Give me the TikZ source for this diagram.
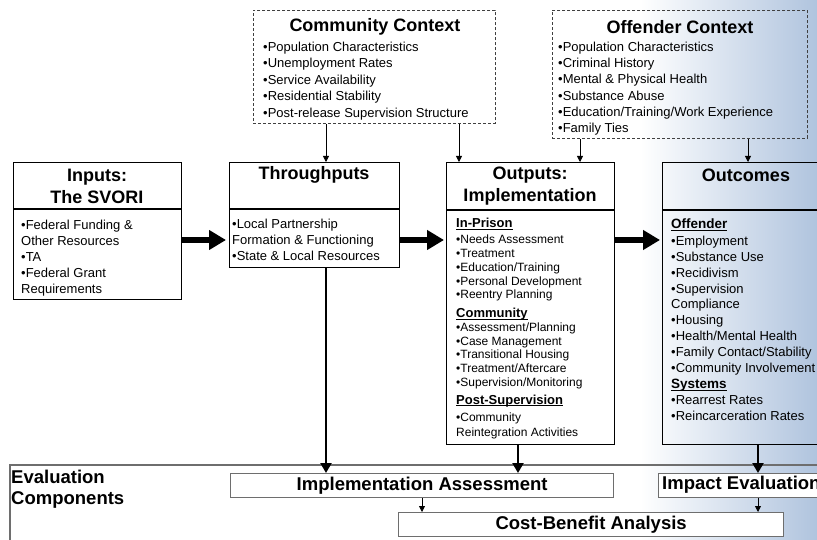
\documentclass[tikz,border=0pt]{standalone}
\usepackage{fontspec}
\setmainfont{Liberation Sans}
\usetikzlibrary{arrows.meta}
\definecolor{gradblue}{RGB}{176,196,222}
\definecolor{framegray}{RGB}{110,110,110}
\tikzset{
  mainbox/.style={draw=black, line width=1.3pt, inner sep=0pt, anchor=north west},
  ctxbox/.style={draw=black!75, line width=0.9pt, dash pattern=on 3pt off 2pt, inner sep=0pt, anchor=north west},
  evalbox/.style={draw=framegray, line width=1.3pt, fill=white, inner sep=0pt, anchor=north west},
  divider/.style={draw=black, line width=1.3pt},
  titletext/.style={font=\fontsize{18}{22}\selectfont\bfseries, align=center, inner sep=0pt},
  evaltext/.style={font=\fontsize{18.5}{21}\selectfont\bfseries, inner sep=0pt},
  bodytext/.style={align=left, inner sep=0pt, anchor=north west},
  thickarrow/.style={line width=6.5pt, -{Triangle[length=17pt,width=19pt]}},
  vertarrow/.style={line width=2.2pt, -{Triangle[length=10pt,width=11pt]}},
  thinarrow/.style={line width=0.8pt, -{Triangle[length=6pt,width=6pt]}},
}
\newcommand{\myul}[1]{{\setbox0\hbox{#1}\rlap{\rule[-2.2pt]{\wd0}{1pt}}\box0}}
\newcommand{\hdr}[1]{{\fontsize{13}{13.8}\selectfont\bfseries\myul{#1}}}
\newcommand{\hdrb}[1]{{\fontsize{13.5}{15.9}\selectfont\bfseries\myul{#1}}}
\begin{document}
\begin{tikzpicture}[x=1pt,y=-1pt]
\useasboundingbox (0,0) rectangle (817,540);
\clip (0,0) rectangle (817,540);
\fill[white] (0,0) rectangle (817,540);
\shade[left color=white, right color=gradblue] (640,0) rectangle (817,540);

% helper columns
\coordinate (colA) at (326,0);
\coordinate (colB) at (459,0);
\coordinate (colC) at (580,0);
\coordinate (colD) at (748,0);
\coordinate (colE) at (518,0);
\coordinate (colF) at (758,0);
\coordinate (colG) at (422,0);
\coordinate (rowArrow) at (0,240);

% context boxes
\node[ctxbox, minimum width=242pt, minimum height=113pt] (cc) at (253,10) {};
\node[titletext] (ccT) at (375,27) {Community Context};
\node[bodytext, font=\fontsize{13}{16.6}\selectfont] (ccB) at (263,41.5)
  {•Population Characteristics\\•Unemployment Rates\\•Service Availability\\•Residential Stability\\•Post-release Supervision Structure};

\node[ctxbox, minimum width=255pt, minimum height=128pt] (oc) at (552,10) {};
\node[titletext] (ocT) at (680,27) {Offender Context};
\node[bodytext, font=\fontsize{13}{16.3}\selectfont] (ocB) at (558,41.5)
  {•Population Characteristics\\•Criminal History\\•Mental \& Physical Health\\•Substance Abuse\\•Education/Training/Work Experience\\•Family Ties};

% main boxes
\node[mainbox, minimum width=168pt, minimum height=137pt] (inp) at (13,162) {};
\draw[divider] (inp.west |- 0,209) -- (inp.east |- 0,209);
\node[titletext] (inpT) at (97,186) {Inputs:\\The SVORI};
\node[bodytext, font=\fontsize{13}{16}\selectfont] (inpB) at (21,219.5)
  {•Federal Funding \&\\Other Resources\\•TA\\•Federal Grant\\Requirements};

\node[mainbox, minimum width=170pt, minimum height=105pt] (thr) at (229,162) {};
\draw[divider] (thr.west |- 0,209) -- (thr.east |- 0,209);
\node[titletext] (thrT) at (314,175) {Throughputs};
\node[bodytext, font=\fontsize{13}{15.7}\selectfont] (thrB) at (232,219)
  {•Local Partnership\\Formation \& Functioning\\•State \& Local Resources};

\node[mainbox, minimum width=168pt, minimum height=282pt] (out) at (446,162) {};
\draw[divider] (out.west |- 0,210) -- (out.east |- 0,210);
\node[titletext] (outT) at (530,186) {Outputs:\\Implementation};
\node[bodytext, font=\fontsize{12}{13.8}\selectfont] (outB) at (456,218)
  {\hdr{In-Prison}\\[2.2pt]•Needs Assessment\\•Treatment\\•Education/Training\\•Personal Development\\•Reentry Planning\\[5.3pt]
   \hdr{Community}\\[-0.4pt]•Assessment/Planning\\•Case Management\\•Transitional Housing\\•Treatment/Aftercare\\•Supervision/Monitoring\\[3.8pt]
   \hdr{Post-Supervision}\\[3.2pt]•Community\\[1.2pt]Reintegration Activities};

\node[mainbox, minimum width=168pt, minimum height=282pt] (otc) at (662,162) {};
\draw[divider] (otc.west |- 0,210) -- (otc.east |- 0,210);
\node[titletext] (otcT) at (746,175) {Outcomes};
\node[bodytext, font=\fontsize{13}{15.9}\selectfont] (otcB) at (671,218.5)
  {\hdrb{Offender}\\[1pt]•Employment\\•Substance Use\\•Recidivism\\•Supervision\\Compliance\\•Housing\\•Health/Mental Health\\•Family Contact/Stability\\•Community Involvement\\
   \hdrb{Systems}\\•Rearrest Rates\\•Reincarceration Rates};

% evaluation components
\node[draw=framegray, line width=1.5pt, inner sep=0pt, anchor=north west, minimum width=830pt, minimum height=100pt] (ev) at (9,464) {};
\node[evaltext, align=left, anchor=north west] (evT) at (11,470) {Evaluation\\Components};
\node[evalbox, minimum width=383pt, minimum height=24pt] (ia) at (230,473) {};
\node[evaltext] (iaT) at (ia.center) {Implementation Assessment};
\node[evalbox, minimum width=172pt, minimum height=24pt] (ie) at (658,473) {};
\node[evaltext, anchor=west] (ieT) at (662,485) {Impact Evaluation};
\node[evalbox, minimum width=385pt, minimum height=24pt] (cba) at (398,512) {};
\node[evaltext] (cbaT) at (cba.center) {Cost-Benefit Analysis};

% connectors
\draw[thinarrow] (cc.south -| colA) -- (thr.north -| colA);
\draw[thinarrow] (cc.south -| colB) -- (out.north -| colB);
\draw[thinarrow] (oc.south -| colC) -- (out.north -| colC);
\draw[thinarrow] (oc.south -| colD) -- (otc.north -| colD);

\draw[thickarrow] (inp.east |- rowArrow) -- ([xshift=-3pt]thr.west |- rowArrow);
\draw[thickarrow] (thr.east |- rowArrow) -- ([xshift=-2pt]out.west |- rowArrow);
\draw[thickarrow] (out.east |- rowArrow) -- ([xshift=-2pt]otc.west |- rowArrow);

\draw[vertarrow] (thr.south -| colA) -- (ia.north -| colA);
\draw[vertarrow] (out.south -| colE) -- (ia.north -| colE);
\draw[vertarrow] (otc.south -| colF) -- (ie.north -| colF);

\draw[thinarrow] (ia.south -| colG) -- (cba.north -| colG);
\draw[thinarrow] (ie.south -| colF) -- (cba.north -| colF);
\end{tikzpicture}
\end{document}
